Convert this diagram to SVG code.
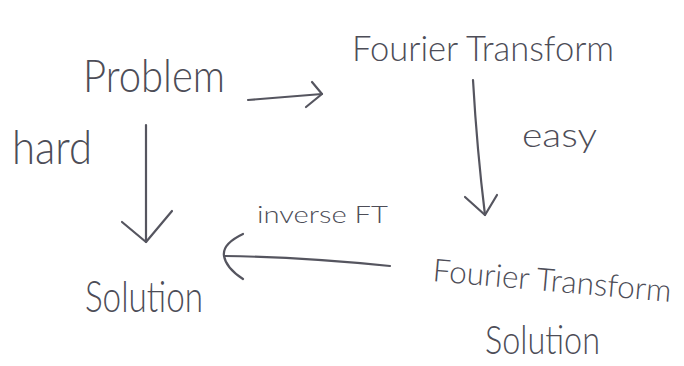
<svg xmlns="http://www.w3.org/2000/svg" width="684" height="366" viewBox="0 0 684 366">
  <style>
    .lbl { font-family: "Lato", "Open Sans", "Liberation Sans", sans-serif; font-weight: 300; fill: #4d4d57; }
    .pen { fill: none; stroke: #55555f; stroke-width: 2.2; stroke-linecap: round; stroke-linejoin: round; }
  </style>
  <rect width="684" height="366" fill="#ffffff"/>

  <g id="problem">
    <text class="lbl" x="83" y="92" font-size="46" textLength="142" lengthAdjust="spacingAndGlyphs">Problem</text>
  </g>
  <g id="fourier-transform">
    <text class="lbl" x="352" y="61" font-size="34.5">Fourier Transform</text>
  </g>
  <g id="solution">
    <text class="lbl" x="85" y="312" font-size="44" textLength="118" lengthAdjust="spacingAndGlyphs">Solution</text>
  </g>
  <g id="ft-solution">
    <text class="lbl" x="432" y="281" font-size="31.5" transform="rotate(5 432 281)">Fourier Transform</text>
    <text class="lbl" x="485" y="354" font-size="40" textLength="115" lengthAdjust="spacingAndGlyphs">Solution</text>
  </g>

  <g id="connectors">
    <!-- Problem to Fourier Transform -->
    <path class="pen" d="M248 100 Q285 97 322 94"/>
    <path class="pen" d="M312 82 L322 94 L306 107"/>
    <!-- Problem to Solution, labelled hard -->
    <path class="pen" d="M146 125 Q146 185 146 242"/>
    <path class="pen" d="M122 222 L146 242 L172 211"/>
    <text class="lbl" x="12" y="164" font-size="48" textLength="80" lengthAdjust="spacingAndGlyphs">hard</text>
    <!-- Fourier Transform to its solution, labelled easy -->
    <path class="pen" d="M473 80 Q477 150 485 215"/>
    <path class="pen" d="M465 197 L485 215 L497 195"/>
    <text class="lbl" x="522" y="147" font-size="34" textLength="75" lengthAdjust="spacingAndGlyphs">easy</text>
    <!-- inverse transform back to Solution -->
    <path class="pen" d="M390 266 Q300 257 225 256"/>
    <path class="pen" d="M243 234 Q222 244 224 256 Q226 268 243 279"/>
    <text class="lbl" x="257" y="223" font-size="23" textLength="131" lengthAdjust="spacingAndGlyphs">inverse FT</text>
  </g>
</svg>
